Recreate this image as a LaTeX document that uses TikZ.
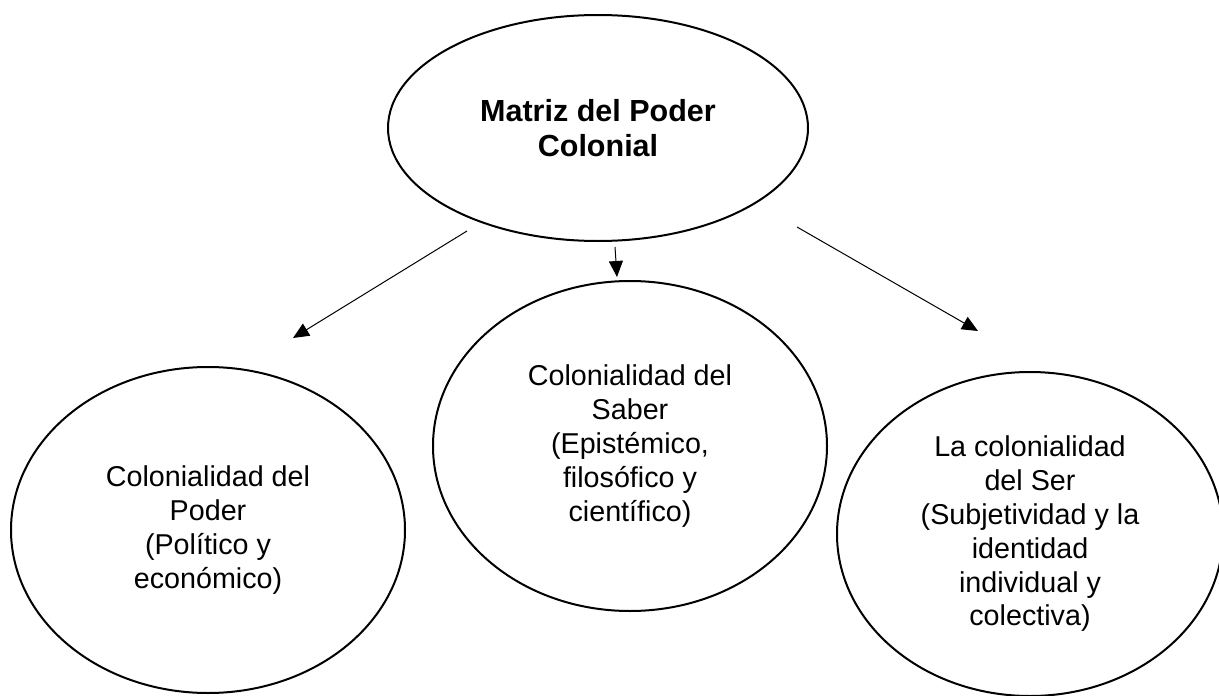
\documentclass[tikz,border=0pt]{standalone}
\usepackage{fontspec}
\setmainfont{Liberation Sans}
\usetikzlibrary{shapes.geometric,arrows.meta}
\tikzset{
  bubble/.style={ellipse, draw=black, line width=2pt, inner sep=0pt, align=center,
    font=\fontsize{28.7}{33.8}\selectfont},
  link/.style={draw=black, line width=1pt, -{Triangle[length=16pt,width=14pt]}},
}
\begin{document}
\begin{tikzpicture}[x=1pt,y=-1pt]
\useasboundingbox (0,0) rectangle (1219,696);
\node[bubble, minimum width=420pt, minimum height=226pt,
  font=\fontsize{30.5}{35}\selectfont\bfseries] (matriz) at (598,128)
  {Matriz del Poder\\Colonial};
\node[bubble, minimum width=394pt, minimum height=326pt] (poder) at (208,530)
  {Colonialidad del\\Poder\\(Político y\\económico)};
\node[bubble, minimum width=394pt, minimum height=330pt] (saber) at (630,446)
  {Colonialidad del\\Saber\\(Epistémico,\\filosófico y\\científico)};
\node[bubble, minimum width=386pt, minimum height=324pt] (ser) at (1030,534)
  {La colonialidad\\del Ser\\(Subjetividad y la\\identidad\\individual y\\colectiva)};
\coordinate (aL) at (467,231);
\coordinate (bL) at (293,338);
\coordinate (aM) at (615,247);
\coordinate (bM) at (617,277);
\coordinate (aR) at (797,227);
\coordinate (bR) at (978,331);
\draw[link] (aL) -- (bL);
\draw[link] (aM) -- (bM);
\draw[link] (aR) -- (bR);
\end{tikzpicture}
\end{document}
